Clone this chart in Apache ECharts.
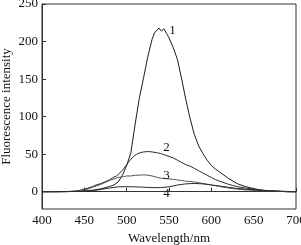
<!DOCTYPE html>
<html>
<head>
<meta charset="utf-8">
<script src="https://cdn.jsdelivr.net/npm/echarts@6/dist/echarts.min.js"></script>
<style>html,body{margin:0;padding:0;background:#fff}#c{width:301px;height:245px}</style>
</head>
<body>
<div id="c"></div>
<script>
// Wavelength (nm) and fluorescence intensity for each curve
const wl1 = [400,420,440,450,460,470,480,485,490,495,500,505,510,515,520,525,530,533,536,538,541,544,547,550,555,560,565,570,575,580,585,590,595,600,605,610,620,630,640,650,660,670,680,690,700];
const s1  = [0,0,0.5,1,2,4,7,9,13,22,35,52,90,125,152,180,203,212,215,218,214,217,211,205,192,176,150,122,97,76,61,51,42,35,30,26,18,11,7,4,2,1,0.5,0,0];
const wl2 = [400,430,440,445,452,460,464,470,476,480,484,488,492,496,500,504,508,512,516,520,525,530,535,540,545,550,555,560,565,570,575,580,585,590,595,600,605,610,615,620,625,630,635,640,650,660,670,680,690,700];
const s2  = [0,0,1,2,4,7,9,11,14,16,19,21,25,30,36,42,47,50,52,53,53.5,53,52,51,49,47,45,42,39,36,34,31,28,25,22,19,16,14,12,10,8.5,7,6,5,3.5,2,1,0.5,0,0];
const wl3 = [400,440,450,460,470,476,480,485,490,496,500,505,510,515,520,525,530,535,540,545,550,555,560,565,570,575,580,585,590,595,600,610,620,630,640,650,660,670,680,700];
const s3  = [0,0.5,2,6,10,13,15,17,19,20,21,21,22,22,22.5,22,21,19.5,18,17.5,17,16.5,15.6,15,14,13.5,13,12,11,10,9,7,5,3.5,2.5,2,1.5,1,0.5,0];
const wl4 = [400,450,460,470,480,490,500,510,520,530,540,550,560,570,580,590,600,610,620,630,640,650,660,670,680,690,700];
const s4  = [0,0.5,1.5,3,5,6.5,6.7,6.5,6,5.5,5.5,6.5,9,10.5,11,10.5,9,7.5,6,4.5,3.5,2.5,2,1.3,0.8,0.4,0];
// Curve label anchors [nm, intensity]
const labelNames = ['1','2','3','4'];
const labelPos = [[554,214],[547,59],[547,22],[547,-2]];
const yTicks = [0,50,100,150,200,250];

const zip = (a,b) => a.map((x,i)=>[x,b[i]]);
const font = 'Liberation Serif';
const chart = echarts.init(document.getElementById('c'));
const series = [[wl1,s1,'#1a1a1a'],[wl2,s2,'#2a2a2a'],[wl3,s3,'#555'],[wl4,s4,'#2a2a2a']].map((d,i)=>({
  type:'line', data:zip(d[0],d[1]), showSymbol:false, smooth:false,
  lineStyle:{color:d[2],width:1}, silent:true, animation:false,
  markPoint:{symbol:'circle',symbolSize:0,silent:true,
    label:{show:true,formatter:labelNames[i],color:'#111',fontFamily:font,fontSize:13,position:'inside'},
    data:[{coord:labelPos[i]}]}
}));
chart.setOption({
  animation:false,
  grid:{left:42,right:5,top:4,bottom:36,show:true,borderColor:'#333',borderWidth:1,outerBoundsMode:'none',containLabel:false},
  xAxis:{type:'value',min:400,max:700,interval:50,
    name:'Wavelength/nm',nameLocation:'middle',nameGap:23,nameMoveOverlap:false,
    nameTextStyle:{fontFamily:font,fontSize:13,color:'#111'},
    axisLine:{show:true,lineStyle:{color:'#333'}},
    axisTick:{show:true,inside:true,length:4,lineStyle:{color:'#333'}},
    axisLabel:{fontFamily:font,fontSize:13,color:'#111',margin:5},
    splitLine:{show:false}},
  yAxis:{type:'value',min:-23,max:250,
    name:'Fluorescence intensity',nameLocation:'middle',nameGap:29,nameRotate:90,nameMoveOverlap:false,
    nameTextStyle:{fontFamily:font,fontSize:13,color:'#111'},
    axisLine:{show:true,lineStyle:{color:'#333'}},
    axisTick:{show:true,inside:true,length:4,lineStyle:{color:'#333'},customValues:yTicks},
    axisLabel:{fontFamily:font,fontSize:13,color:'#111',margin:4,customValues:yTicks},
    splitLine:{show:false}},
  series
});
</script>
</body>
</html>
